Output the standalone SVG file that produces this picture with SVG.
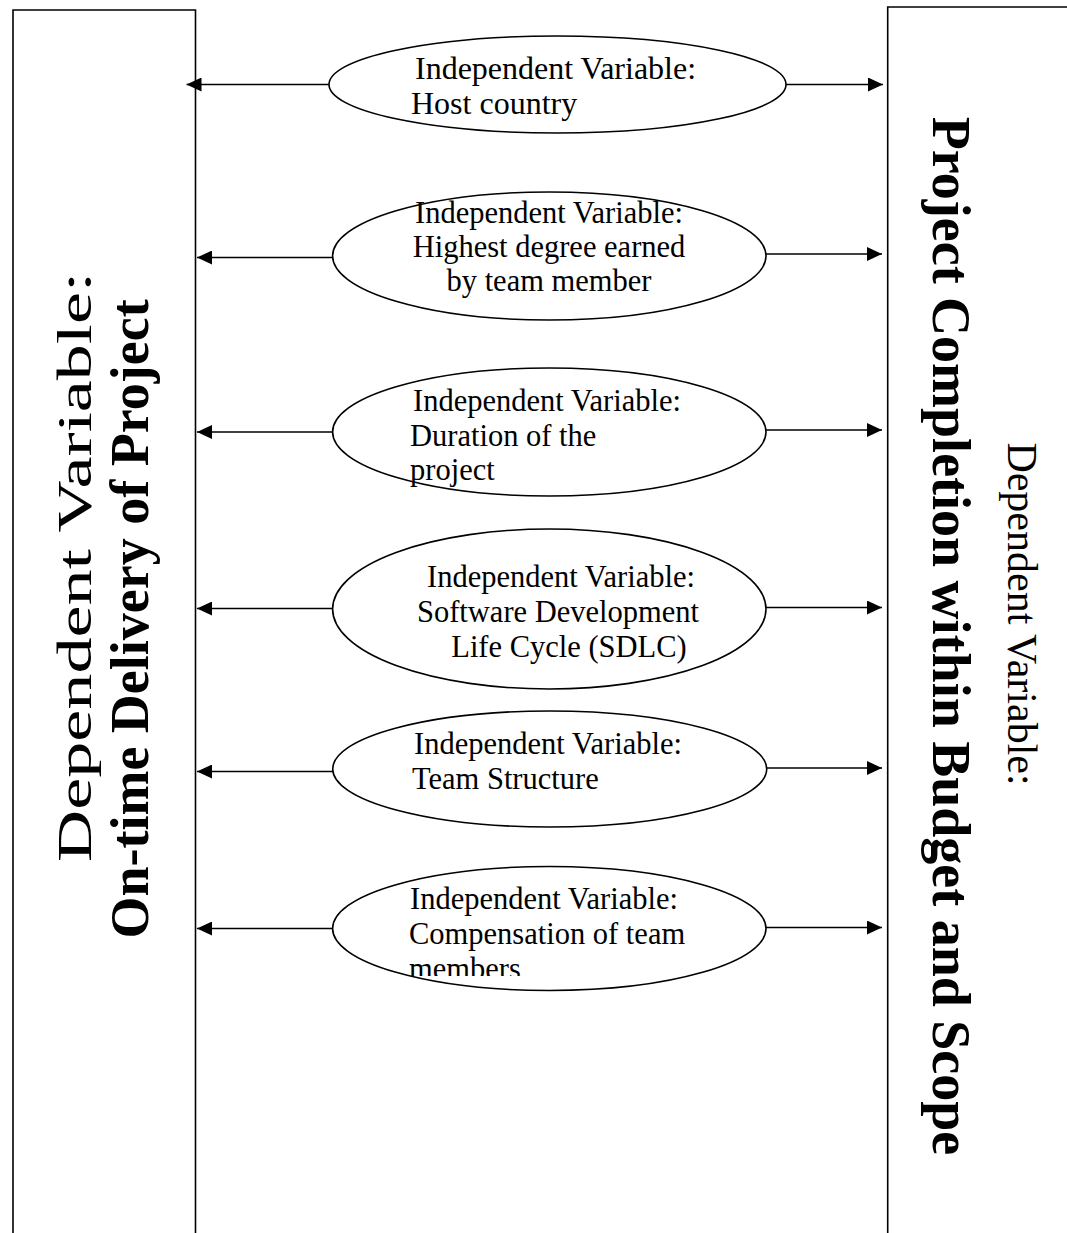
<svg xmlns="http://www.w3.org/2000/svg" width="1067" height="1233" viewBox="0 0 1067 1233">
<style>
.box{fill:none;stroke:#000;stroke-width:1.6}
.ell{fill:#fff;stroke:#000;stroke-width:1.6}
.con{stroke:#000;stroke-width:1.6;fill:none}
.t{font-family:"Liberation Serif","Times New Roman",serif;font-size:30.5px;fill:#000}
.t1{font-size:32px}
.dv{font-family:"Liberation Serif","Times New Roman",serif;font-size:42px;fill:#000}
.dvl{font-family:"Liberation Serif","Times New Roman",serif;font-size:48px;fill:#000}
.db{font-family:"Liberation Serif","Times New Roman",serif;font-size:54px;font-weight:bold;fill:#000}
</style>
<defs>
<marker id="ah" viewBox="0 0 15 14" refX="15" refY="7" markerWidth="15" markerHeight="14" markerUnits="userSpaceOnUse" orient="auto">
<path d="M0,0 L15,7 L0,14 Z" fill="#000"/>
</marker>
<clipPath id="clip6"><rect x="330" y="950" width="440" height="26"/></clipPath>
</defs>
<rect width="1067" height="1233" fill="#fff"/>

<g id="dv-left">
<path class="box" d="M13,1240 L13,10 L195.5,10 L195.5,1240"/>
<text class="dvl" transform="translate(91,862) rotate(-90)" textLength="590" lengthAdjust="spacingAndGlyphs">Dependent Variable:</text>
<text class="db" transform="translate(148,619) rotate(-90)" text-anchor="middle">On-time Delivery of Project</text>
</g>

<g id="dv-right">
<path class="box" d="M887.7,1240 L887.7,7 L1070,7"/>
<text class="dv" transform="translate(1008,614) rotate(90)" text-anchor="middle">Dependent Variable:</text>
<text class="db" transform="translate(933,636) rotate(90)" text-anchor="middle">Project Completion within Budget and Scope</text>
</g>

<g id="connectors">
<line class="con" x1="330" y1="84.5" x2="186.5" y2="84.5" marker-end="url(#ah)"/>
<line class="con" x1="786" y1="84.5" x2="883" y2="84.5" marker-end="url(#ah)"/>
<line class="con" x1="333" y1="257.5" x2="197" y2="257.5" marker-end="url(#ah)"/>
<line class="con" x1="766" y1="254" x2="882" y2="254" marker-end="url(#ah)"/>
<line class="con" x1="333" y1="432" x2="197" y2="432" marker-end="url(#ah)"/>
<line class="con" x1="766" y1="430" x2="882" y2="430" marker-end="url(#ah)"/>
<line class="con" x1="333" y1="608.5" x2="197" y2="608.5" marker-end="url(#ah)"/>
<line class="con" x1="766" y1="607.5" x2="882" y2="607.5" marker-end="url(#ah)"/>
<line class="con" x1="333" y1="771.5" x2="197" y2="771.5" marker-end="url(#ah)"/>
<line class="con" x1="767" y1="768" x2="882" y2="768" marker-end="url(#ah)"/>
<line class="con" x1="333" y1="928.5" x2="197" y2="928.5" marker-end="url(#ah)"/>
<line class="con" x1="766" y1="927.5" x2="882" y2="927.5" marker-end="url(#ah)"/>
</g>

<g id="iv1">
<ellipse class="ell" cx="557.5" cy="84.5" rx="228.5" ry="48.5"/>
<text class="t t1" x="415" y="79">Independent Variable:</text>
<text class="t t1" x="411" y="114">Host country</text>
</g>
<g id="iv2">
<ellipse class="ell" cx="549.3" cy="256" rx="216.7" ry="64"/>
<text class="t" x="549" y="223" text-anchor="middle">Independent Variable:</text>
<text class="t" x="549" y="257" text-anchor="middle">Highest degree earned</text>
<text class="t" x="549" y="291" text-anchor="middle">by team member</text>
</g>
<g id="iv3">
<ellipse class="ell" cx="549.3" cy="432" rx="216.7" ry="64"/>
<text class="t" x="413" y="411">Independent Variable:</text>
<text class="t" x="410" y="446">Duration of the</text>
<text class="t" x="410" y="480">project</text>
</g>
<g id="iv4">
<ellipse class="ell" cx="549.3" cy="609" rx="216.7" ry="80"/>
<text class="t" x="561" y="587" text-anchor="middle">Independent Variable:</text>
<text class="t" x="558" y="622" text-anchor="middle">Software Development</text>
<text class="t" x="569" y="657" text-anchor="middle">Life Cycle (SDLC)</text>
</g>
<g id="iv5">
<ellipse class="ell" cx="549.7" cy="769" rx="217" ry="58"/>
<text class="t" x="414" y="754">Independent Variable:</text>
<text class="t" x="412" y="789">Team Structure</text>
</g>
<g id="iv6">
<ellipse class="ell" cx="549.3" cy="928.5" rx="216.7" ry="62"/>
<text class="t" x="410" y="909">Independent Variable:</text>
<text class="t" x="409" y="944">Compensation of team</text>
<text class="t" x="409" y="979" clip-path="url(#clip6)">members</text>
</g>
</svg>
